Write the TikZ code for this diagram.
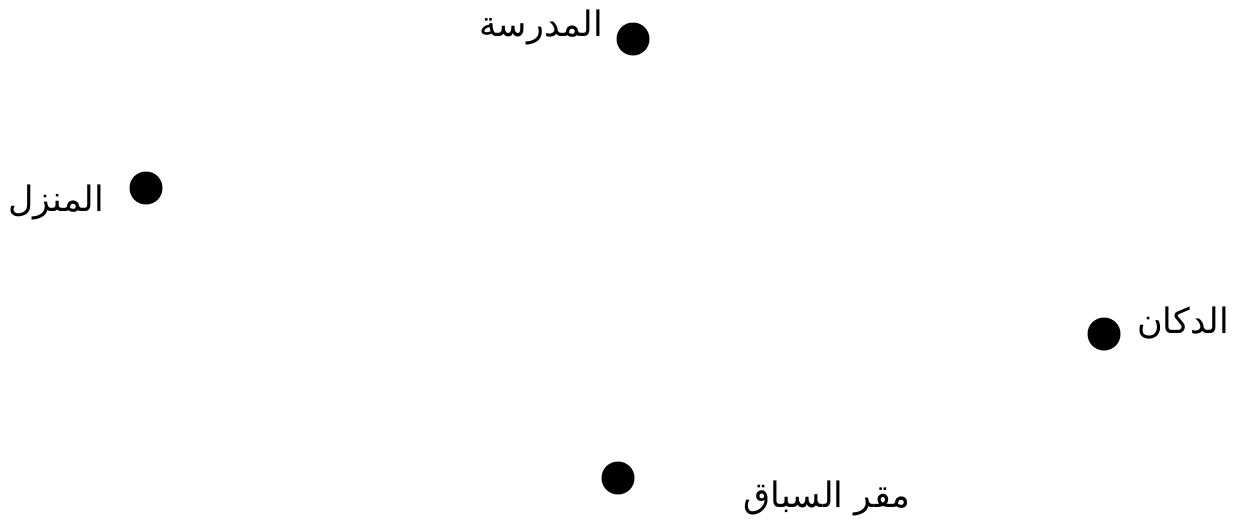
\documentclass[tikz,border=0pt]{standalone}
\usepackage{fontspec}
\newfontfamily\arabicfont[Script=Arabic]{DejaVu Sans}
\TeXXeTstate=1
\begin{document}
\begin{tikzpicture}[x=1pt,y=-1pt,
  dot/.style={circle,fill=black,inner sep=0pt,minimum size=33pt},
  lbl/.style={inner sep=0pt,anchor=base,font=\arabicfont\fontsize{35}{42}\selectfont}]
\useasboundingbox (0,0) rectangle (1242,525);
\node[dot] (school) at (633,39) {};
\node[dot] (home) at (146,188) {};
\node[dot] (shop) at (1104,334) {};
\node[dot] (race) at (618,478) {};
\node[lbl] (tschool) at (541,36) {\beginR المدرسة\endR};
\node[lbl] (thome) at (56,211) {\beginR المنزل\endR};
\node[lbl] (tshop) at (1183,333) {\beginR الدكان\endR};
\node[lbl] (trace) at (827,507) {\beginR مقر السباق\endR};
\end{tikzpicture}
\end{document}
